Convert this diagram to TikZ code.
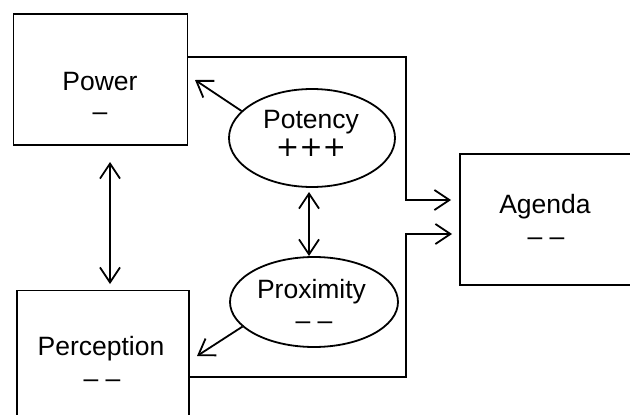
\documentclass[tikz,border=0pt]{standalone}
\usepackage{fontspec}
\setmainfont{Liberation Sans}
\newfontfamily\plusfont{DejaVu Sans}
\usetikzlibrary{arrows.meta,shapes.geometric}
\begin{document}
\begin{tikzpicture}[x=1pt,y=-1pt,
  ln/.style={line width=1.8pt},
  arr/.style={ln,-{Straight Barb[length=15pt,width=20pt,line width=1.8pt]}},
  darr/.style={ln,{Straight Barb[length=15pt,width=20pt,line width=1.8pt]}-{Straight Barb[length=15pt,width=20pt,line width=1.8pt]}},
  boxst/.style={draw,ln,rectangle,minimum width=174pt,minimum height=131pt,inner sep=0pt},
  ellst/.style={draw,ln,ellipse,inner sep=0pt},
  txt/.style={anchor=base,inner sep=0pt,font=\fontsize{26.5}{30}\selectfont},
  big/.style={anchor=base,inner sep=0pt,font=\plusfont\fontsize{28}{30}\selectfont}]
\useasboundingbox (0,0) rectangle (630,415);
\clip (0,0) rectangle (630,415);
% boxes
\node[boxst] (pow) at (100.5,79.5) {};
\node[boxst,minimum width=172pt] (per) at (103,356) {};
\node[boxst,minimum width=172pt] (age) at (546,219.5) {};
% ellipses
\node[ellst,minimum width=166pt,minimum height=98pt] (pot) at (312,138) {};
\node[ellst,minimum width=168pt,minimum height=90pt] (pro) at (314,302) {};
% texts
\node[txt] (powt) at (100,90) {Power};
\node[txt] (powd) at (100,120) {–};
\node[txt] (pert) at (101,355) {Perception};
\node[txt] (perd) at (102,387) {– –};
\node[txt] (aget) at (545,213) {Agenda};
\node[txt] (aged) at (546,245) {– –};
\node[txt] (pott) at (311,128) {Potency};
\node[big] (potd) at (311,156) {+++};
\node[txt] (prot) at (311.5,298) {Proximity};
\node[txt] (prod) at (314,329) {– –};
% connector points
\coordinate (powtip) at (195,80);
\coordinate (pertip) at (197,356);
\coordinate (c1) at (406,57);
\coordinate (c2) at (406,200);
\coordinate (t1) at (451,200);
\coordinate (c3) at (406,377);
\coordinate (c4) at (406,234);
\coordinate (t2) at (452,234);
% connectors
\draw[arr] (pot.159) -- (powtip);
\draw[arr] (pro.199) -- (pertip);
\draw[darr] (110,162) -- (110,284);
\draw[darr] (309,192) -- (309,256);
\draw[arr] (pow.east |- c1) -- (c1) -- (c2) -- (t1);
\draw[arr] (per.east |- c3) -- (c3) -- (c4) -- (t2);
\end{tikzpicture}
\end{document}
